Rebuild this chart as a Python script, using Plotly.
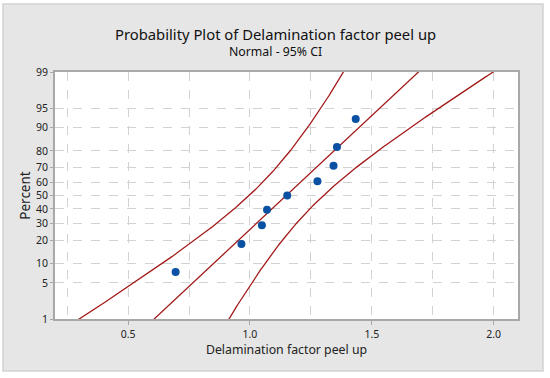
import numpy as np
import plotly.graph_objects as go
from statistics import NormalDist

values = [0.695, 0.965, 1.049, 1.070, 1.153, 1.277, 1.343, 1.357, 1.434]
percent_ticks = [1, 5, 10, 20, 30, 40, 50, 60, 70, 80, 90, 95, 99]
x_tick_vals = [0.5, 1.0, 1.5, 2.0]
x_tick_text = ["0.5", "1.0", "1.5", "2.0"]

nd = NormalDist()
x = np.sort(np.array(values))
n = len(x)
ranks = (np.arange(1, n + 1) - 0.3) / (n + 0.4)
zpts = np.array([nd.inv_cdf(p) for p in ranks])

mu = x.mean()
sd = x.std(ddof=1)
zs = np.linspace(nd.inv_cdf(0.0005), nd.inv_cdf(0.9995), 300)
fit = mu + zs * sd
half = 1.96 * np.sqrt(sd**2 * (1.0 / n + zs**2 / (2 * (n - 1))))
lower = fit - half
upper = fit + half

red = "#a31a1a"
fig = go.Figure()
for xs in (lower, fit, upper):
    fig.add_trace(go.Scatter(x=xs, y=zs, mode="lines",
                             line=dict(color=red, width=1.3), hoverinfo="skip",
                             showlegend=False))
fig.add_trace(go.Scatter(x=x, y=zpts, mode="markers",
                         marker=dict(color="#0a51a3", size=8), showlegend=False))

grid = "#d2d2d2"
axis_line = "#a8a8a8"
font = "Noto Sans"
ytv = [nd.inv_cdf(p / 100) for p in percent_ticks]

fig.update_layout(
    width=550, height=378,
    margin=dict(l=55, r=32, t=72, b=59),
    paper_bgcolor="white", plot_bgcolor="white",
    font=dict(family=font, color="#222222"),
    xaxis=dict(range=[0.2, 2.1], tickvals=x_tick_vals, ticktext=x_tick_text,
               showgrid=True, gridcolor=grid, griddash="dash", gridwidth=1,
               minor=dict(dtick=0.25, tick0=0, showgrid=True, gridcolor=grid,
                          griddash="dash", ticks=""),
               ticks="outside", ticklen=4, tickcolor=axis_line,
               showline=True, linecolor=axis_line, linewidth=2, mirror=True,
               zeroline=False, tickfont=dict(size=10.5),
               title=dict(text="Delamination factor peel up", font=dict(size=12.3), standoff=6)),
    yaxis=dict(range=[ytv[0], ytv[-1]], tickvals=ytv,
               ticktext=[str(p) for p in percent_ticks],
               showgrid=True, gridcolor=grid, griddash="dash", gridwidth=1,
               ticks="outside", ticklen=3, tickcolor=axis_line,
               showline=True, linecolor=axis_line, linewidth=2, mirror=True,
               zeroline=False, tickfont=dict(size=10.5),
               title=dict(text="Percent", font=dict(size=13.5), standoff=2)),
    shapes=[
        dict(type="rect", xref="paper", yref="paper", x0=-0.1123, x1=1.054,
             y0=-0.2105, y1=1.275, fillcolor="#e6e6e6",
             line=dict(color="#d2d2d2", width=1.5), layer="below"),
        dict(type="rect", xref="paper", yref="paper", x0=0, x1=1, y0=0, y1=1,
             fillcolor="white", line=dict(width=0), layer="below"),
    ],
    annotations=[
        dict(text="Probability Plot of Delamination factor peel up", xref="paper",
             yref="paper", x=0.476, y=(319 - 34) / 247, xanchor="center", yanchor="middle",
             showarrow=False, font=dict(size=14.8, color="#111111")),
        dict(text="Normal - 95% CI", xref="paper", yref="paper", x=0.476,
             y=(319 - 52) / 247, xanchor="center", yanchor="middle",
             showarrow=False, font=dict(size=12.3, color="#111111")),
    ],
)
fig.write_html("out.html", config={"displayModeBar": False},
               post_script="document.body.style.margin='0';")
